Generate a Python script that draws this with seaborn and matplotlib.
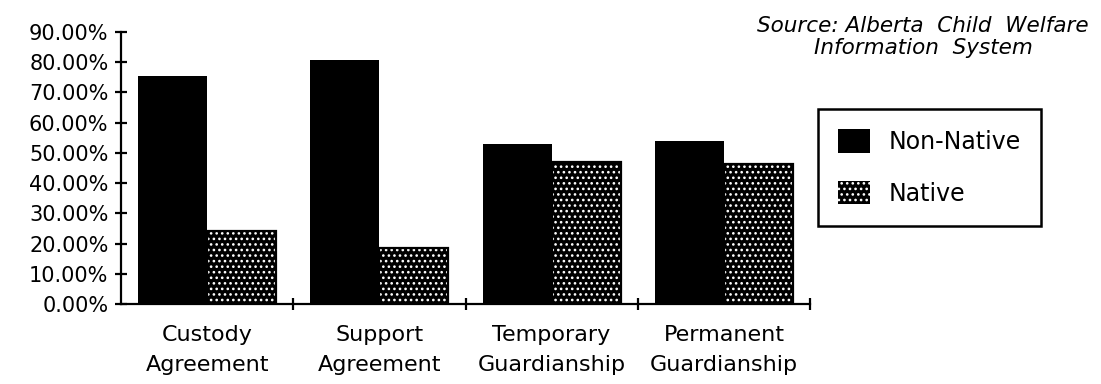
import matplotlib
matplotlib.use("Agg")
import matplotlib.pyplot as plt
import seaborn as sns
import pandas as pd
from matplotlib.patches import Rectangle
from matplotlib.ticker import FixedLocator, FuncFormatter

# Placement outcomes by group (percent of cases)
categories = ["Custody\nAgreement", "Support\nAgreement",
              "Temporary\nGuardianship", "Permanent\nGuardianship"]
groups = ["Non-Native", "Native"]
non_native = [75.4, 80.6, 53.0, 54.0]
native = [24.0, 18.6, 46.9, 46.2]
y_ticks = [0, 10, 20, 30, 40, 50, 60, 70, 80, 90]

df = pd.DataFrame({
    "category": categories * 2,
    "group": [groups[0]] * len(categories) + [groups[1]] * len(categories),
    "value": non_native + native,
})

sns.set_style("ticks")
plt.rcParams["font.family"] = ["DejaVu Sans"]
plt.rcParams["hatch.linewidth"] = 1.1
plt.rcParams["text.color"] = "black"
plt.rcParams["xtick.color"] = "black"
plt.rcParams["ytick.color"] = "black"
plt.rcParams["xtick.labelcolor"] = "black"
plt.rcParams["ytick.labelcolor"] = "black"

fig = plt.figure(figsize=(11.01, 3.84), dpi=100)
ax = fig.add_axes([121 / 1101, 80 / 384, 689 / 1101, 272 / 384])

sns.barplot(data=df, x="category", y="value", hue="group",
            hue_order=groups, order=categories,
            palette=["black", "black"], width=0.8, saturation=1,
            linewidth=0, ax=ax, legend=False)

# Stippled fill for the second group: white dots over black, solid outline
for p in ax.containers[1]:
    p.set_edgecolor("white")
    p.set_hatch("...")
    p.set_linewidth(0)
    ax.add_patch(Rectangle(p.get_xy(), p.get_width(), p.get_height(),
                           fill=False, edgecolor="black", linewidth=1.6,
                           zorder=p.get_zorder() + 0.1))

ax.set_ylim(0, 90)
ax.set_xlim(-0.5, len(categories) - 0.5)
ax.set_yticks(y_ticks)
ax.yaxis.set_major_formatter(FuncFormatter(lambda v, _: f"{v:.2f}%"))
ax.tick_params(axis="y", direction="inout", length=8, width=1.6,
               labelsize=15, pad=5)

# Category boundaries carry the ticks; names sit between them
ax.xaxis.set_major_locator(FixedLocator([i + 0.5 for i in range(len(categories))]))
ax.xaxis.set_minor_locator(FixedLocator(list(range(len(categories)))))
ax.set_xticklabels([], minor=False)
ax.set_xticklabels(categories, minor=True)
ax.tick_params(axis="x", which="major", direction="inout", length=9, width=1.6)
ax.tick_params(axis="x", which="minor", length=0, labelsize=16, pad=15)
for lbl in ax.get_xticklabels(minor=True):
    lbl.set_linespacing(1.65)

ax.set_xlabel("")
ax.set_ylabel("")
for side in ("top", "right"):
    ax.spines[side].set_visible(False)
for side in ("left", "bottom"):
    ax.spines[side].set_linewidth(1.6)
    ax.spines[side].set_color("black")

handles = [ax.containers[0][0], ax.containers[1][0]]
leg = ax.legend(handles, groups, loc="upper left",
                bbox_to_anchor=(818 / 1101, 1 - 109 / 384),
                bbox_transform=fig.transFigure, borderaxespad=0,
                fontsize=17, frameon=True, fancybox=False, shadow=False,
                handlelength=1.35, handleheight=1.15, handletextpad=0.8,
                labelspacing=1.15, borderpad=0.85)
leg.get_frame().set_edgecolor("black")
leg.get_frame().set_linewidth(1.8)
leg.get_frame().set_alpha(1)

fig.text(923 / 1101, 1 - 32 / 384, "Source: Alberta  Child  Welfare",
         ha="center", va="baseline", fontsize=15.5, style="italic")
fig.text(923 / 1101, 1 - 54 / 384, "Information  System",
         ha="center", va="baseline", fontsize=15.5, style="italic")

fig.savefig("out.png", dpi=100, facecolor="white")
